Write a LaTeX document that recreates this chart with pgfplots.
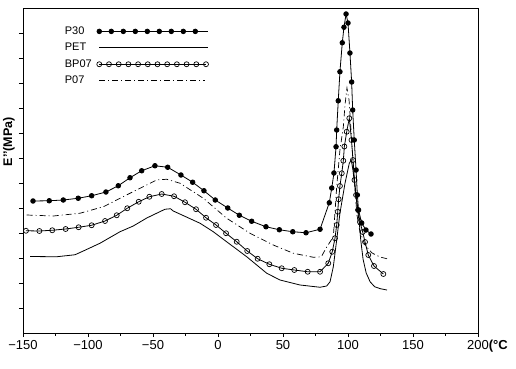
\documentclass[border=0pt]{standalone}
\usepackage{pgfplots}
\pgfplotsset{compat=1.18}
\usepackage{fontspec}
\setmainfont{Liberation Sans}
\pgfplotsset{
  p30leg/.style={legend image code/.code={\draw[##1] plot coordinates {(0pt,0pt) (12pt,0pt) (24pt,0pt) (36pt,0pt) (48pt,0pt) (60pt,0pt) (72pt,0pt) (84pt,0pt) (96pt,0pt)}; \draw[##1,mark=none] (0pt,0pt) -- (109pt,0pt);}},
  petleg/.style={legend image code/.code={\draw[##1] (0pt,0pt) -- (109pt,0pt);}},
  bpleg/.style={legend image code/.code={\draw[##1] plot coordinates {(0pt,0pt) (9.7pt,0pt) (19.4pt,0pt) (29.1pt,0pt) (38.8pt,0pt) (48.5pt,0pt) (58.2pt,0pt) (67.9pt,0pt) (77.6pt,0pt) (87.3pt,0pt) (97pt,0pt) (106.7pt,0pt)};}},
  p07leg/.style={legend image code/.code={\draw[##1] (0pt,0pt) -- (106pt,0pt);}},
}
\begin{document}
\begin{tikzpicture}
\begin{axis}[
  scale only axis, width=455pt, height=325pt,
  xmin=-150, xmax=200, ymin=0, ymax=13,
  xtick={-150,-100,...,200},
  xticklabels={−150,−100,−50,0,50,100,150,200\rlap{\bfseries(°C}},
  minor x tick num=1,
  ytick={1,...,12}, yticklabels={},
  tick pos=left, tick align=outside,
  major tick length=4pt, minor tick length=2.5pt,
  /pgf/number format/assume math mode=true,
  tick label style={font=\fontsize{13}{15}\selectfont},
  axis line style={line width=0.8pt},
  every tick/.style={line width=0.6pt, black},
  ylabel={\bfseries E\symbol{39}\symbol{39}(MPa)},
  ylabel style={at={(axis description cs:-0.031,0.588)}, anchor=center, font=\fontsize{12.5}{14}\selectfont},
  legend plot pos=right,
  legend cell align=left,
  legend style={at={(axis description cs:0.085,0.952)}, anchor=north west, draw=none, fill=none,
    font=\fontsize{11}{13}\selectfont, row sep=3.3pt, column sep=3pt, inner sep=1pt},
]
\addplot[black, line width=0.8pt, mark=*, mark size=2.3pt, p30leg]
coordinates {
(-142.3,5.28) (-129.8,5.29) (-119.0,5.32) (-107.5,5.39) (-97.2,5.49) (-86.2,5.64)
(-76.7,5.89) (-67.7,6.21) (-58.7,6.49) (-48.5,6.69) (-38.7,6.63) (-28.5,6.32)
(-19.5,6.03) (-10.8,5.69) (-2.1,5.32) (7.5,5.00) (16.4,4.71) (25.9,4.47)
(36.9,4.25) (47.2,4.13) (57.5,4.05) (67.7,4.01) (78.5,4.15) (85.6,5.21)
(87.5,5.80) (89.2,6.40) (90.8,7.45) (91.3,8.12) (92.5,9.29) (93.8,10.45)
(95.6,11.61) (96.9,12.23) (98.5,12.76) (100.0,12.40) (101.5,11.20) (102.8,10.04)
(103.6,8.92) (104.8,7.72) (106.2,6.52) (107.2,5.52) (108.1,4.92) (110.5,4.40)
(113.8,4.12) (117.7,3.96)
};
\addlegendentry{P30}
\addplot[black, line width=0.8pt, mark=none, petleg]
coordinates {
(-144.6,3.06) (-124.1,3.05) (-110.0,3.13) (-103.6,3.28) (-90.8,3.59) (-75.4,4.05)
(-65.2,4.28) (-54.8,4.60) (-40.8,4.95) (-36.5,4.97) (-34.4,4.88) (-13.8,4.39)
(-3.6,4.05) (11.8,3.45) (22.1,3.05) (37.5,2.39) (47.7,2.12) (63.1,1.92)
(78.5,1.83) (83.6,1.88) (86.2,2.05) (88.7,2.65) (91.3,3.72) (93.8,4.79)
(97.7,5.99) (101.0,6.79) (102.5,6.92) (103.8,6.52) (106.2,5.45) (108.7,4.39)
(109.8,3.72) (111.6,2.95) (114.0,2.40) (117.0,2.05) (120.5,1.85) (125.0,1.77)
(130.0,1.72)
};
\addlegendentry{PET}
\addplot[black, line width=0.8pt, mark=o, mark size=2.5pt, mark options={fill=white, line width=0.7pt}, bpleg]
coordinates {
(-147.7,4.09) (-137.4,4.08) (-127.5,4.11) (-117.2,4.16) (-107.2,4.23) (-97.2,4.31)
(-86.9,4.48) (-77.9,4.71) (-69.8,4.99) (-61.0,5.25) (-52.8,5.45) (-43.3,5.56)
(-33.8,5.47) (-25.4,5.23) (-16.9,4.95) (-9.2,4.61) (-1.5,4.32) (6.2,3.99)
(14.4,3.65) (22.5,3.28) (30.5,2.97) (39.5,2.75) (49.0,2.59) (58.7,2.52)
(69.0,2.45) (78.5,2.45) (84.8,2.79) (87.9,3.25) (90.0,3.79) (91.3,4.32)
(92.1,4.85) (92.8,5.35) (93.8,5.88) (95.2,6.39) (96.4,6.89) (97.2,7.46)
(99.0,8.05) (101.0,8.59) (102.7,7.72) (103.8,6.92) (105.0,6.12) (106.2,5.52)
(107.7,4.92) (109.2,4.44) (111.3,4.04) (113.1,3.64) (115.6,3.12) (120.0,2.68)
(127.2,2.36)
};
\addlegendentry{BP07}
\addplot[black, line width=0.7pt, mark=none, dash pattern=on 6pt off 3pt on 1pt off 3pt, p07leg]
coordinates {
(-147.2,4.72) (-126.7,4.68) (-106.2,4.79) (-88.2,5.05) (-67.7,5.59) (-47.2,6.12)
(-39.5,6.15) (-29.2,5.99) (-11.3,5.39) (6.7,4.59) (24.6,3.99) (42.5,3.52)
(57.9,3.19) (73.3,3.03) (79.5,3.05) (83.6,3.44) (88.7,3.84) (90.0,4.84)
(91.3,5.84) (93.8,7.32) (96.4,8.24) (97.7,9.12) (99.2,9.80) (100.8,9.32)
(102.3,8.12) (103.8,6.92) (105.4,5.72) (106.9,4.72) (109.2,4.04) (113.1,3.52)
(118.5,3.20) (124.6,3.04) (130.8,2.96)
};
\addlegendentry{P07}
\end{axis}
\pgfresetboundingbox
\path[use as bounding box] ([shift={(-23pt,-35pt)}]current axis.south west) rectangle ([shift={(38pt,8pt)}]current axis.north east);
\end{tikzpicture}
\end{document}
